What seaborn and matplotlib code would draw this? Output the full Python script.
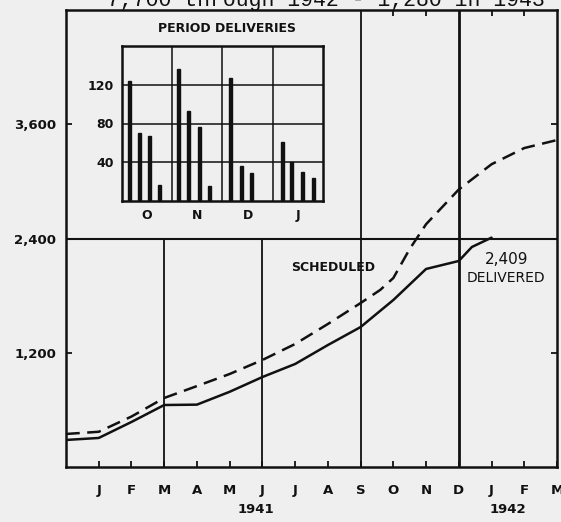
import matplotlib
matplotlib.use("Agg")
import matplotlib.pyplot as plt
import seaborn as sns
import pandas as pd

# ---- data (month index: 0 = axis origin, 1 = J 1941, ... 15 = M 1942)
month_labels = ["J", "F", "M", "A", "M", "J", "J", "A", "S", "O", "N", "D", "J", "F", "M"]
sched_x = [0, 1, 2, 3, 4, 5, 6, 7, 8, 9, 9.6, 10, 10.5, 11, 12, 13, 14, 15]
sched_y = [347, 370, 530, 725, 850, 977, 1124, 1292, 1502, 1722, 1860, 1985, 2290, 2550, 2915, 3180, 3350, 3434]
deliv_x = [0, 1, 2, 3, 4, 5, 6, 7, 8, 9, 10, 11, 12, 12.4, 13]
deliv_y = [284, 305, 473, 651, 655, 790, 945, 1082, 1281, 1470, 1754, 2080, 2164, 2311, 2409]
y_ticks = [1200, 2400, 3600]
y_tick_labels = ["1,200", "2,400", "3,600"]

# inset: period (weekly) deliveries, Oct 1941 - Jan 1942
inset_months = ["O", "N", "D", "J"]
inset_pos = [0.14, 0.34, 0.54, 0.74, 1.13, 1.33, 1.55, 1.75, 2.15, 2.37, 2.57, 3.20, 3.38, 3.60, 3.82]
inset_vals = [124, 70, 67, 17, 136, 93, 76, 16, 127, 36, 29, 61, 40, 30, 24]
inset_yticks = [40, 80, 120]

title_text = "7,700 through 1942 - 1,280 in 1943"

BG = "#efefef"
INK = "#111111"

sns.set_theme(style="white")
plt.rcParams["font.family"] = ["DejaVu Sans"]

fig = plt.figure(figsize=(5.61, 5.22), dpi=100, facecolor=BG)
W, H = 561, 522
ax = fig.add_axes([66 / W, (H - 467) / H, 491 / W, 457 / H], facecolor=BG)

df = pd.concat([
    pd.DataFrame({"month": sched_x, "value": sched_y, "series": "Scheduled"}),
    pd.DataFrame({"month": deliv_x, "value": deliv_y, "series": "Delivered"}),
])
sns.lineplot(data=df, x="month", y="value", style="series",
             dashes={"Scheduled": (5.5, 3.0), "Delivered": ""},
             color=INK, linewidth=1.8, legend=False, ax=ax, sort=True)

ax.set_xlim(0, 15)
ax.set_ylim(0, 4800)

# grid lines of the original drawing
ax.axhline(2400, color=INK, lw=1.5, zorder=1)
for m in (3, 6):
    ax.axvline(m, ymax=0.5, color=INK, lw=1.3, zorder=1)
ax.axvline(9, color=INK, lw=1.3, zorder=1)
ax.axvline(12, color=INK, lw=2.0, zorder=1)

for s in ax.spines.values():
    s.set_visible(True)
    s.set_color(INK)
    s.set_linewidth(1.8)

ax.set_xticks(range(1, 16))
ax.set_xticklabels(month_labels, fontsize=9.5, fontweight="bold", color=INK)
ax.set_yticks(y_ticks)
ax.set_yticklabels(y_tick_labels, fontsize=9.5, fontweight="bold", color=INK)
ax.tick_params(axis="x", direction="in", length=4, width=1.3, color=INK, pad=12, bottom=True)
ax.tick_params(axis="y", direction="in", length=4, width=1.3, color=INK, pad=7, left=True)
ax.set_xlabel("")
ax.set_ylabel("")

sec_top = ax.secondary_xaxis("top")
sec_top.set_xticks([10, 11, 13, 14])
sec_top.set_xticklabels([])
sec_top.tick_params(direction="in", length=4, width=1.3, color=INK)
sec_top.spines["top"].set_visible(False)
sec_r = ax.secondary_yaxis("right")
sec_r.set_yticks([1200, 3600])
sec_r.set_yticklabels([])
sec_r.tick_params(direction="in", length=4, width=1.3, color=INK)
sec_r.spines["right"].set_visible(False)

# year labels
ax.text(5.8, -0.094, "1941", transform=ax.get_xaxis_transform(), ha="center", va="center",
        fontsize=9.5, fontweight="bold", color=INK)
ax.text(13.5, -0.094, "1942", transform=ax.get_xaxis_transform(), ha="center", va="center",
        fontsize=9.5, fontweight="bold", color=INK)

# annotations
ax.text(8.15, 2100, "SCHEDULED", ha="center", va="center", fontsize=9, fontweight="bold", color=INK)
ax.text(13.45, 2180, "2,409", ha="center", va="center", fontsize=11, color=INK)
ax.text(13.45, 1990, "DELIVERED", ha="center", va="center", fontsize=10, color=INK)

# partially cut title at the very top (as in the scanned original)
fig.text(326 / W, 1 - 6 / H, title_text, ha="center", va="baseline",
         fontsize=15.5, family=["Liberation Mono", "DejaVu Sans Mono"], color=INK)

# ---- inset
iax = fig.add_axes([122 / W, (H - 201) / H, 201 / W, 155 / H], facecolor=BG)
sns.barplot(x=inset_pos, y=inset_vals, native_scale=True, width=0.33, color=INK,
            errorbar=None, ax=iax, saturation=1)
for p in iax.patches:
    p.set_edgecolor(INK)
iax.set_xlim(0, 4)
iax.set_ylim(0, 160)
for yv in inset_yticks:
    iax.axhline(yv, color=INK, lw=1.1, zorder=0)
for xv in (1, 2, 3):
    iax.axvline(xv, color=INK, lw=1.1, zorder=0)
for s in iax.spines.values():
    s.set_visible(True)
    s.set_color(INK)
    s.set_linewidth(1.8)
iax.set_xticks([0.5, 1.5, 2.5, 3.5])
iax.set_xticklabels(inset_months, fontsize=9, fontweight="bold", color=INK)
iax.set_yticks(inset_yticks)
iax.set_yticklabels([str(v) for v in inset_yticks], fontsize=9, fontweight="bold", color=INK)
iax.tick_params(axis="both", length=0, pad=6)
iax.set_xlabel("")
iax.set_ylabel("")
fig.text(227 / W, 1 - 28 / H, "PERIOD DELIVERIES", ha="center", va="center",
         fontsize=9, fontweight="bold", color=INK)

fig.savefig("out.png", dpi=100, facecolor=BG)
